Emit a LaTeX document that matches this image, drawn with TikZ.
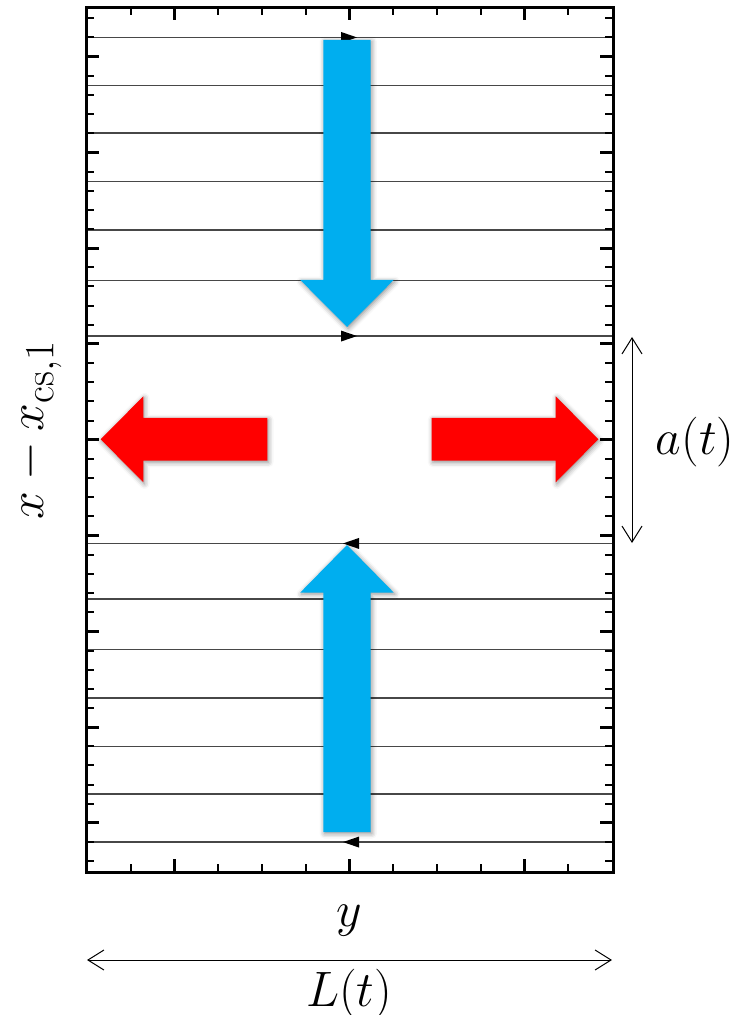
\documentclass[tikz,border=0pt]{standalone}
\usepackage{amsmath}
\usetikzlibrary{arrows.meta,shadows.blur}
\definecolor{bluearrow}{HTML}{00AEEF}
\definecolor{redarrow}{HTML}{FF0000}
\tikzset{
  plotframe/.style={line width=1.5pt},
  minortick/.style={line width=1pt},
  majortick/.style={line width=1.5pt},
  fieldline/.style={line width=0.75pt, draw=black!72},
  flowarrow/.style={blur shadow={shadow xshift=0.6pt, shadow yshift=-0.8pt, shadow blur radius=2.5pt, shadow opacity=45}},
  dimarrow/.style={line width=0.5pt, {Straight Barb[length=8pt,width=10pt]}-{Straight Barb[length=8pt,width=10pt]}},
  lbl/.style={font=\fontsize{27.5}{33}\selectfont, inner sep=0pt}
}
\begin{document}
\begin{tikzpicture}[x=0.5pt,y=-0.5pt]
\useasboundingbox (0,0) rectangle (738,1015);
% field lines
\foreach \o in {402.3,354.3,306.5,258,209.7,159.2,103.7}{
  \draw[fieldline] (87.5,439.75-\o) -- (611.5,439.75-\o);
  \draw[fieldline] (87.5,439.75+\o) -- (611.5,439.75+\o);
}
% arrowheads on field lines
\foreach \o in {402.3,103.7}{
  \fill[black] (357,439.75-\o) -- (341,439.75-\o-5.5) -- (341,439.75-\o+5.5) -- cycle;
  \fill[black] (343,439.75+\o) -- (359,439.75+\o-5.5) -- (359,439.75+\o+5.5) -- cycle;
}
% ticks
\foreach \k in {-22,...,22}{
  \draw[minortick] (86,439.75+\k*19.16) -- ++(8,0);
  \draw[minortick] (613,439.75+\k*19.16) -- ++(-8,0);
}
\foreach \k in {-20,-15,...,20}{
  \draw[majortick] (86,439.75+\k*19.16) -- ++(13,0);
  \draw[majortick] (613,439.75+\k*19.16) -- ++(-13,0);
}
\foreach \k in {-5,...,5}{
  \draw[minortick] (349.5+\k*43.7,7.5) -- ++(0,8);
  \draw[minortick] (349.5+\k*43.7,872) -- ++(0,-8);
}
\foreach \k in {-4,0,4}{
  \draw[majortick] (349.5+\k*43.7,7.5) -- ++(0,13);
  \draw[majortick] (349.5+\k*43.7,872) -- ++(0,-13);
}
\draw[plotframe] (86,7.5) rectangle (613,872);
% blue arrows
\fill[bluearrow, flowarrow] (323.3,40) -- (370.7,40) -- (370.7,280) -- (393.7,280) -- (347,327) -- (300.3,280) -- (323.3,280) -- cycle;
\fill[bluearrow, flowarrow] (347,545) -- (393.7,592.5) -- (370.7,592.5) -- (370.7,832) -- (323.3,832) -- (323.3,592.5) -- (300.3,592.5) -- cycle;
% red arrows
\fill[redarrow, flowarrow] (100.7,439.3) -- (143.3,396.3) -- (143.3,417.9) -- (267.3,417.9) -- (267.3,460.7) -- (143.3,460.7) -- (143.3,482.3) -- cycle;
\fill[redarrow, flowarrow] (598.3,439.3) -- (555.7,396.3) -- (555.7,417.9) -- (431.7,417.9) -- (431.7,460.7) -- (555.7,460.7) -- (555.7,482.3) -- cycle;
% dimension arrows
\coordinate (atop) at (632,337);
\coordinate (abot) at (632,543);
\draw[dimarrow] (atop) -- (abot);
\coordinate (lleft) at (87,960);
\coordinate (lright) at (612,960);
\draw[dimarrow] (lleft) -- (lright);
% labels
\node[lbl] (alab) at (695,442) {$a(t)$};
\node[lbl] (ylab) at (349,921) {$y$};
\node[lbl] (Llab) at (349,994) {$L(t)$};
\node[lbl, rotate=90] (xlab) at (38,430) {$x - x_{\mathrm{cs},1}$};
\end{tikzpicture}
\end{document}
